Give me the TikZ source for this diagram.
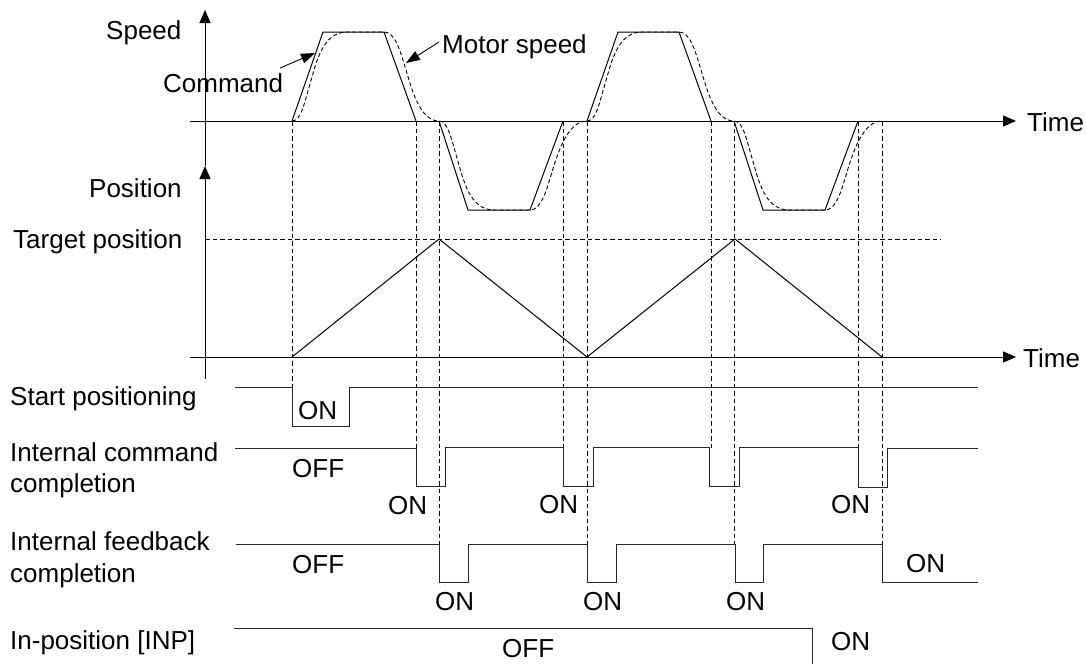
\documentclass[tikz,border=0pt]{standalone}
\usepackage{fontspec}
\setmainfont{Liberation Sans}
\usetikzlibrary{arrows.meta}
\begin{document}
\begin{tikzpicture}[x=1pt,y=-1pt,
  lbl/.style={anchor=base west,inner sep=0pt,font=\fontsize{26}{30}\selectfont},
  axisline/.style={line width=1pt,-{Triangle[length=13pt,width=11pt]}},
  cmdline/.style={line width=1pt},
  motorline/.style={line width=0.9pt,dash pattern=on 4pt off 2.5pt},
  guide/.style={line width=0.8pt,dash pattern=on 4.5pt off 3pt},
  sig/.style={line width=1pt,black!85},
  callout/.style={line width=0.9pt,-{Triangle[length=14pt,width=10pt]}}]

\useasboundingbox (0,0) rectangle (1086,664);

% vertical guide lines
\foreach \s in {0,295}{
  \foreach \x/\e in {292/387,416/448,439/544,563/448,587/544}{
    \pgfmathsetmacro{\xx}{\x+\s}
    \ifdim\xx pt<883pt
      \draw[guide] (\xx,121) -- (\xx,\e);
    \fi
  }
}
\draw[guide] (205,239) -- (941,239);

% axes
\draw[axisline] (205,379) -- (205,166);
\draw[axisline] (205,166) -- (205,10);
\draw[axisline] (190,121) -- (1016,121);
\draw[axisline] (190,357) -- (1016,357);

% speed curves
\foreach \s in {0,295}{
  \begin{scope}[shift={(\s,0)}]
    \draw[cmdline] (292,121) -- (323,32) -- (384,32) -- (416,121);
    \draw[cmdline] (439,121) -- (468,210) -- (530,210) -- (563,121);
    \draw[motorline] (292,121) .. controls (301,121) and (304,104) .. (310,84)
      .. controls (316,64) and (322,32) .. (347,32) -- (384,32)
      .. controls (395,32) and (400,50) .. (406,70)
      .. controls (412,90) and (420,121) .. (439,121)
      .. controls (448,121) and (451,138) .. (457,158)
      .. controls (463,178) and (469,210) .. (494,210) -- (530,210)
      .. controls (541,210) and (546,192) .. (552,172)
      .. controls (558,152) and (568,121) .. (587,121);
  \end{scope}
}

% position
\draw[cmdline] (292,357) -- (439,239) -- (587,357) -- (735,239) -- (882,357);

% labels
\node[lbl] (speed) at (106,39) {Speed};
\node[lbl] (command) at (163,92) {Command};
\node[lbl] (motorsp) at (442,53) {Motor speed};
\node[lbl] (position) at (89,197) {Position};
\node[lbl] (target) at (13,248) {Target position};
\node[lbl,anchor=west] (time1) at (1027,122) {Time};
\node[lbl,anchor=west] (time2) at (1023,358) {Time};

\coordinate (cmdtail) at (280,68);
\coordinate (cmdtip) at (315,53);
\draw[callout] (cmdtail) -- (cmdtip);
\coordinate (mottail) at (439,42);
\coordinate (mottip) at (406,63);
\draw[callout] (mottail) -- (mottip);

% signal labels
\node[lbl] (sp) at (10,405) {Start positioning};
\node[lbl] (icc1) at (10,461) {Internal command};
\node[lbl] (icc2) at (10,492) {completion};
\node[lbl] (ifc1) at (10,550) {Internal feedback};
\node[lbl] (ifc2) at (10,582) {completion};
\node[lbl] (inp) at (10,649) {In-position [INP]};

% signals
\draw[sig] (235,387) -- (292,387) -- (292,426) -- (349,426) -- (349,387) -- (978,387);
\draw[sig] (235,448) -- (416,448) -- (416,486) -- (445,486) -- (445,447) -- (563,447)
  -- (563,486) -- (593,486) -- (593,447) -- (709,447) -- (709,486) -- (739,486)
  -- (739,447) -- (858,447) -- (858,487) -- (887,487) -- (887,448) -- (978,448);
\draw[sig] (236,544) -- (439,544) -- (439,582) -- (468,582) -- (468,544) -- (587,544)
  -- (587,582) -- (616,582) -- (616,544) -- (735,544) -- (735,582) -- (763,582)
  -- (763,544) -- (882,544) -- (882,582) -- (978,582);
\draw[sig] (234,628) -- (812,628) -- (812,664);

% state labels
\node[lbl] (sp-on) at (298,419) {ON};
\node[lbl] (icc-off) at (292,477) {OFF};
\node[lbl] (icc-on1) at (388,514) {ON};
\node[lbl] (icc-on2) at (539,513) {ON};
\node[lbl] (icc-on3) at (831,513) {ON};
\node[lbl] (ifc-off) at (292,573) {OFF};
\node[lbl] (ifc-on1) at (435,610) {ON};
\node[lbl] (ifc-on2) at (583,610) {ON};
\node[lbl] (ifc-on3) at (726,610) {ON};
\node[lbl] (ifc-on4) at (906,572) {ON};
\node[lbl] (inp-off) at (502,657) {OFF};
\node[lbl] (inp-on) at (831,650) {ON};
\end{tikzpicture}
\end{document}
